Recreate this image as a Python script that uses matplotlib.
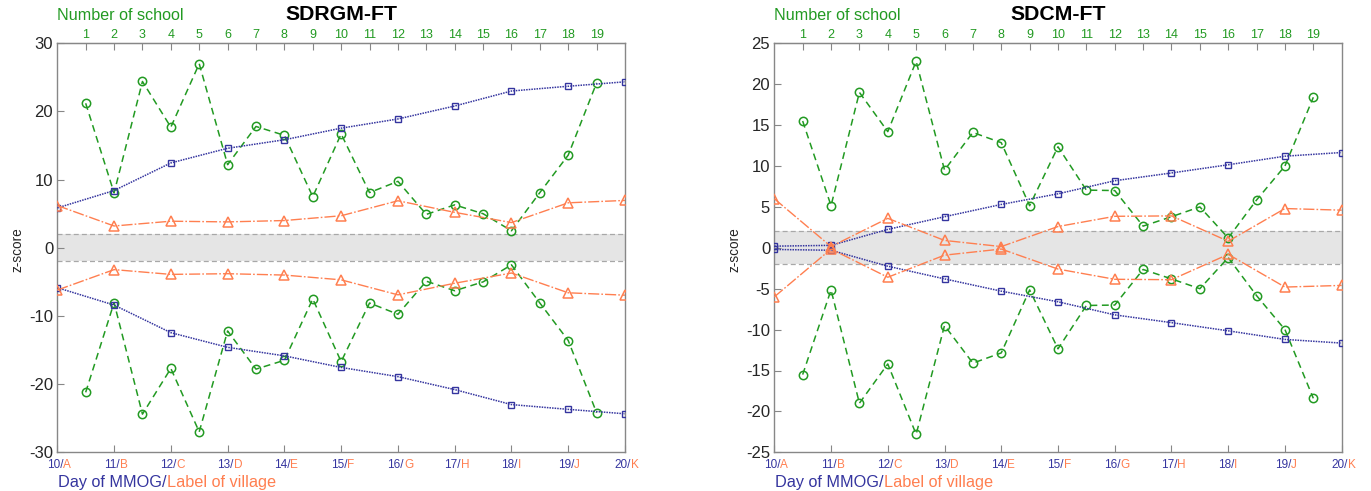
import matplotlib
matplotlib.use('Agg')
import matplotlib.pyplot as plt
import numpy as np

# ---------------- data ----------------
days = [10, 11, 12, 13, 14, 15, 16, 17, 18, 19, 20]
villages = ['A', 'B', 'C', 'D', 'E', 'F', 'G', 'H', 'I', 'J', 'K']
schools = list(range(1, 20))

# SDRGM-FT (upper envelope; lower envelope is the mirror)
sdrgm_day = [5.85, 8.4, 12.45, 14.6, 15.85, 17.55, 18.9, 20.8, 23.0, 23.7, 24.35]
sdrgm_village = [6.2, 3.2, 3.9, 3.8, 4.0, 4.7, 6.9, 5.2, 3.7, 6.6, 6.95]
sdrgm_school = [21.2, 8.05, 24.4, 17.7, 27.0, 12.2, 17.8, 16.5, 7.5, 16.7,
                8.1, 9.75, 4.9, 6.3, 5.0, 2.5, 8.1, 13.6, 24.2]

# SDCM-FT
sdcm_day = [0.2, 0.3, 2.25, 3.8, 5.3, 6.6, 8.2, 9.15, 10.15, 11.2, 11.65]
sdcm_village = [6.0, 0.15, 3.6, 0.9, 0.15, 2.6, 3.85, 3.9, 0.8, 4.8, 4.6]
sdcm_school = [15.5, 5.15, 19.0, 14.2, 22.8, 9.5, 14.1, 12.85, 5.15, 12.35,
               7.05, 7.0, 2.65, 3.8, 5.0, 1.2, 5.85, 10.0, 18.4]

band = 2.0

# ---------------- style ----------------
BLUE = '#35359f'
ORANGE = '#ff7f50'
GREEN = '#229a22'
AXC = '#878787'
TXT = '#262626'

plt.rcParams['font.family'] = ['Liberation Sans', 'DejaVu Sans']

W, H = 1371, 491
fig = plt.figure(figsize=(W / 100, H / 100), dpi=100)


def panel(left_px, right_px, title, day_vals, vil_vals, sch_vals, ylim, yticks):
    top_px, bot_px = 43.3, 452.3
    ax = fig.add_axes([left_px / W, 1 - bot_px / H, (right_px - left_px) / W,
                       (bot_px - top_px) / H])
    d = np.array(days, float)
    s = d[0] + 0.5 * np.array(schools, float)

    ax.axhspan(-band, band, color='#e5e5e5', lw=0, zorder=0)
    for yv in (band, -band):
        ax.axhline(yv, color='#a8a8a8', lw=0.9, ls=(0, (4, 2.5)), zorder=1)

    for sign in (1, -1):
        ax.plot(s, sign * np.array(sch_vals), color=GREEN, lw=1.1,
                ls=(0, (4.5, 3)), marker='o', ms=6, mfc='none', mew=1.1, zorder=3)
        ax.plot(d, sign * np.array(day_vals), color=BLUE, lw=1.1,
                ls=(0, (1, 0.7)), marker='s', ms=4.3, mfc='none', mew=1.0, zorder=4)
        ax.plot(d, sign * np.array(vil_vals), color=ORANGE, lw=1.0,
                ls=(0, (8, 1.5, 1.2, 1.5)), marker='^', ms=6.8, mfc='none',
                mew=1.1, zorder=5)

    ax.set_xlim(10, 20)
    ax.set_ylim(*ylim)
    ax.set_yticks(yticks)
    ax.set_yticklabels([str(v) for v in yticks])
    ax.set_xticks(days)
    ax.set_xticklabels([])
    ax.tick_params(axis='both', direction='in', color=AXC, length=5,
                   labelcolor=TXT, labelsize=12, top=False, right=False)
    ax.tick_params(axis='y', pad=3)
    for sp in ax.spines.values():
        sp.set_color(AXC)
        sp.set_linewidth(1.0)

    sec = ax.secondary_xaxis('top')
    sec.set_xticks(s)
    sec.set_xticklabels([str(i) for i in schools])
    sec.tick_params(direction='in', color=AXC, length=5, labelcolor=GREEN,
                    labelsize=9, pad=2)
    sec.spines['top'].set_color(AXC)

    # two-colour bottom tick labels (joined at a fixed point right of the tick)
    for dv, lab in zip(days, villages):
        ax.annotate(f'{dv}/', xy=(dv, 0), xycoords=('data', 'axes fraction'),
                    xytext=(4.3, -5), textcoords='offset points',
                    ha='right', va='top', color=BLUE, fontsize=8.5,
                    annotation_clip=False)
        ax.annotate(lab, xy=(dv, 0), xycoords=('data', 'axes fraction'),
                    xytext=(4.3, -5), textcoords='offset points',
                    ha='left', va='top', color=ORANGE, fontsize=8.5,
                    annotation_clip=False)

    # texts above
    fig.text(left_px / W, 1 - 15.5 / H, 'Number of school', color=GREEN,
             fontsize=11.6, ha='left', va='center')
    fig.text((left_px + right_px) / 2 / W, 1 - 15 / H, title, color='black',
             fontsize=15.3, fontweight='bold', ha='center', va='center')
    # y label
    fig.text((left_px - 40) / W, 1 - 250 / H, 'z-score', color=TXT,
             fontsize=9.8, rotation=90, ha='center', va='center')
    # x label (two colours)
    t1 = fig.text((left_px + 1) / W, 1 - 482 / H, 'Day of MMOG/', color=BLUE,
                  fontsize=11.7, ha='left', va='center')
    ax.annotate('Label of village', xy=(1, 0), xycoords=t1, ha='left',
                va='bottom', color=ORANGE, fontsize=11.7, annotation_clip=False)
    return ax


panel(57.3, 625.0, 'SDRGM-FT', sdrgm_day, sdrgm_village, sdrgm_school,
      (-30, 30), [-30, -20, -10, 0, 10, 20, 30])
panel(774.3, 1341.7, 'SDCM-FT', sdcm_day, sdcm_village, sdcm_school,
      (-25, 25), [-25, -20, -15, -10, -5, 0, 5, 10, 15, 20, 25])

fig.savefig('out.png', dpi=100)
